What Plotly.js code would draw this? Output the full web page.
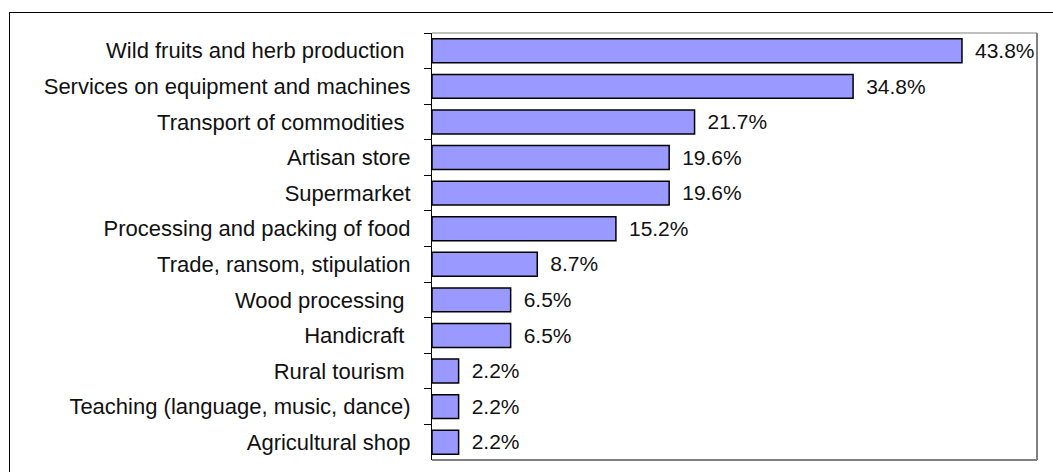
<!DOCTYPE html>
<html>
<head>
<meta charset="utf-8">
<script src="https://cdn.plot.ly/plotly-3.0.1.min.js"></script>
<style>
  body { margin: 0; overflow: hidden; background: #fff; }
  #myPlot { position: absolute; left: 0; top: 0; width: 1053px; height: 472px; }
  #frame { position: absolute; left: 9px; top: 12px; width: 1100px; height: 500px;
           border: 1px solid #000; pointer-events: none; }
</style>
</head>
<body>
<div id="myPlot"></div>
<div id="frame"></div>
<script>
// Activities, top to bottom (trailing nbsp kept where the original label had a space)
var activities = [
  "Wild fruits and herb production\u00a0",
  "Services on equipment and machines",
  "Transport of commodities\u00a0",
  "Artisan store",
  "Supermarket",
  "Processing and packing of food",
  "Trade, ransom, stipulation",
  "Wood processing\u00a0",
  "Handicraft\u00a0",
  "Rural tourism\u00a0",
  "Teaching (language, music, dance)",
  "Agricultural shop"
]

// Share of respondents (%)
var shares = [43.8, 34.8, 21.7, 19.6, 19.6, 15.2, 8.7, 6.5, 6.5, 2.2, 2.2, 2.2]

var labelFont = {family: "Liberation Sans, Arial, sans-serif", size: 22, color: "#111"}

var data = [{
  type: "bar",
  orientation: "h",
  x: shares,
  y: activities,
  marker: {color: "#9999ff", line: {color: "#000", width: 1.5}},
  texttemplate: "\u00a0\u2009%{x:.1f}%",
  textposition: "outside",
  textfont: labelFont,
  cliponaxis: false,
  hoverinfo: "none"
}]

var layout = {
  width: 1053,
  height: 472,
  margin: {l: 432, r: 16, t: 33, b: 12},
  paper_bgcolor: "rgba(0,0,0,0)",
  plot_bgcolor: "#fff",
  bargap: 0.33,
  showlegend: false,
  font: labelFont,
  xaxis: {
    range: [0, 50],
    showticklabels: false,
    showgrid: false,
    zeroline: false,
    ticks: ""
  },
  yaxis: {
    type: "category",
    autorange: "reversed",
    showline: true,
    linecolor: "#000",
    linewidth: 1,
    ticks: "outside",
    tickson: "boundaries",
    ticklen: 7,
    tickcolor: "#000",
    ticklabelstandoff: 16,
    showgrid: false,
    tickfont: labelFont
  },
  shapes: [
    {type: "line", xref: "paper", yref: "paper", x0: 0, x1: 1, y0: 1, y1: 1, line: {color: "#808080", width: 1}},
    {type: "line", xref: "paper", yref: "paper", x0: 1, x1: 1, y0: 0, y1: 1, line: {color: "#808080", width: 2}},
    {type: "line", xref: "paper", yref: "paper", x0: 0, x1: 1, y0: 0, y1: 0, line: {color: "#808080", width: 2}}
  ]
}

Plotly.newPlot("myPlot", data, layout, {staticPlot: true})
</script>
</body>
</html>
